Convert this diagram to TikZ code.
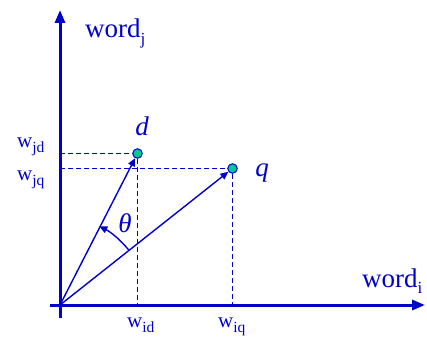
\documentclass[tikz,border=0pt]{standalone}
\usepackage{fontspec}
\setmainfont{Liberation Serif}
\usetikzlibrary{arrows.meta}
\definecolor{ink}{RGB}{0,0,204}
\definecolor{dotfill}{RGB}{0,200,150}
\tikzset{
  axis/.style={ink, line width=3pt, -{Triangle[length=13pt,width=10pt]}},
  vec/.style={ink, line width=1.4pt, -{Triangle[length=8pt,width=7pt]}},
  proj/.style={ink, line width=1.3pt, dash pattern=on 5pt off 3pt},
  pt/.style={circle, draw=ink, fill=dotfill, line width=1pt, minimum size=9.5pt, inner sep=0pt},
  big/.style={text=ink, font=\fontsize{27}{27}\selectfont, inner sep=0pt},
  small/.style={text=ink, font=\fontsize{21}{21}\selectfont, inner sep=0pt},
}
\newcommand{\sbig}[1]{\raisebox{-0.25em}{\fontsize{17}{17}\selectfont #1}}
\newcommand{\ssmall}[1]{\raisebox{-0.25em}{\fontsize{15.5}{15.5}\selectfont #1}}
\begin{document}
\begin{tikzpicture}[x=1pt,y=1pt]
\useasboundingbox (0,0) rectangle (427,338);
\coordinate (O) at (60,33);
\coordinate (ybot) at (60,20);
\coordinate (ytop) at (60,328);
\coordinate (xleft) at (50,33);
\coordinate (xright) at (425,33);
\node[pt] (d) at (137.5,184.5) {};
\node[pt] (q) at (232.5,169.5) {};
\coordinate (jd) at (60,184.5);
\coordinate (jq) at (60,169.5);
\coordinate (id) at (137.5,33);
\coordinate (iq) at (232.5,33);
% projections
\draw[proj] (jd) -- (d);
\draw[proj] (jq) -- (q);
\draw[proj] (d) -- (id);
\draw[proj] (q) -- (iq);
% axes
\draw[axis] (ybot) -- (ytop);
\draw[axis] (xleft) -- (xright);
% vectors
\draw[vec] (O) -- (d);
\draw[vec] (O) -- (q);
% angle
\draw[ink, line width=1.4pt, -{Triangle[length=8pt,width=7pt]}] ([shift={(38.5:88)}]O) arc[start angle=38.5, end angle=63.5, radius=88];
% labels
\node[big, anchor=base west] (wj) at (85,300) {word\sbig{j}};
\node[big, anchor=base west] (wi) at (362,51) {word\sbig{i}};
\node[small, anchor=base west] (ljd) at (17,191) {w\ssmall{jd}};
\node[small, anchor=base west] (ljq) at (17,158) {w\ssmall{jq}};
\node[small, anchor=base west] (lid) at (127,11) {w\ssmall{id}};
\node[small, anchor=base west] (liq) at (218,11) {w\ssmall{iq}};
\node[big, anchor=base] (dl) at (142,203) {\itshape d};
\node[big, anchor=base] (ql) at (262,162) {\itshape q};
\node[big] (th) at (125,115) {\itshape θ};
\end{tikzpicture}
\end{document}
